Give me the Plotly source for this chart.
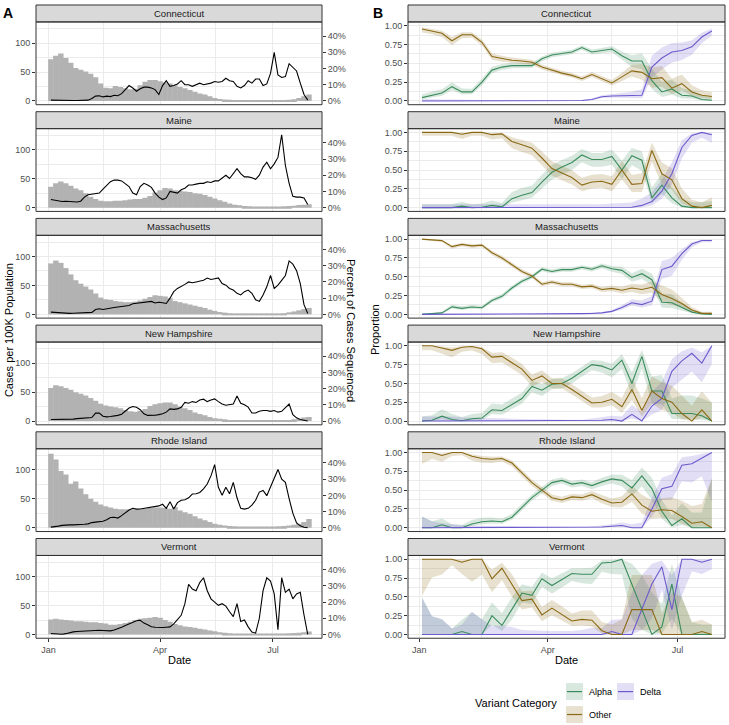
import numpy as np
import pandas as pd
import plotly.graph_objects as go

# ---------------- data ----------------
states = ["Connecticut", "Maine", "Massachusetts", "New Hampshire", "Rhode Island", "Vermont"]

# cases per 100K (4-day bins starting 2021-01-03)
CT_cases = [72,78,82,74,66,57,54,51,47,41,30,23,22,26,24,22,20,21,27,33,36,36,34,32,30,27,24,22,19,16,13,11,8,5,3.5,2.5,2,1.5,1.2,1,1,1,1,1,1,1,1.2,1.5,2,3,5,8,11]
ME_cases = [36,42,45,42,38,33,30,25,19,15,12,11,11,12,12,13,14,15,15,17,20,26,30,34,33,30,29,28,27,25,24,22,19,16,13,10,7,5,4,3,2.5,2,2,2,2,2,2,2.5,3,3.5,4.5,5,6]
MA_cases = [88,93,89,80,69,59,53,48,43,36,29,26,25,23,22,21,21,22,24,27,30,33,32,31,28,23,21,19,17,15,13,11,8,6,4,3,2,1.5,1.2,1,1,1,1,1,1,1,1.5,2,3.5,5,7,9,11]
NH_cases = [57,62,60,57,54,50,47,44,40,35,30,27,25,24,22,19,17,16,18,21,26,29,31,32,32,29,25,22,19,15,12,10,7,5,4,3,2,1.5,1,1,1,1,1,1,1,1,1,1.5,2,3,4,6,7]
RI_cases = [128,118,98,92,76,80,68,58,50,45,40,37,35,33,32,32,32,32,32,33,34,35,35,34,33,36,30,27,24,20,16,13,10,7,5,4,3,2.5,2,2,2,2,2,2,2,2,2.5,3,4,5,7,10,15]
VT_cases = [26,27,26,25,24,23,23,22,21,21,20,19,17,17,18,20,22,25,27,28,29,30,29,25,22,18,16,14,13,11.5,10,8.6,7,5.5,4,3,2,1.5,1.2,1,1,1,1,1,1,1,1.2,1.5,2,2.5,3,4,5]

# percent of cases sequenced (every 3 days starting 2021-01-03)
CT_pct = [0.5,0.4,0.3,0.3,0.2,0.2,0.3,0.3,0.3,0.4,0.5,1.5,3,3.2,2.5,3,2.7,3.5,3.2,4.5,7,9.5,8,6,7.5,8.5,8.5,8,7,4,9.5,12.5,9,9.5,10.5,12.5,10,10,9,10,11,10,10.5,11,12,11.5,12,14,12.5,12,9,8,9.5,12.5,11,13.5,13.5,9.5,10.5,17,30,16,14.5,15,23,21,18.5,11,4,0.5]
ME_pct = [5,4.5,4,3.8,4,3.9,3.5,3.5,4,6.5,8,8.3,8.5,9,11.5,14,16,17,17,16.5,15,13,9,8,13,15,14,12.5,9,6.5,5,6,10,9.5,9,11,12,14,14,14.5,15,15,16,15.5,16.5,16.5,18,20,18,21,24,21,19,19,18.5,17.5,20,25,28,24,27,31,45,26,15,7,6.5,6.5,6,2]
MA_pct = [1.4,1.2,1,0.8,0.6,0.6,0.7,0.8,0.9,1,1,1.2,3,3.5,3,3.5,4,4.2,4.5,4.7,5,5.5,6.5,6.8,7,7.3,7.5,8,7,7.5,7.2,6.7,10,14,16,17,18.5,20,19.5,20,20.4,21,22.4,21.5,22,22.5,19,18,16,15,13,12,14,15,13,9,8,12,17,24,16,18,21,24,33,31,27,19,6,0.5]
NH_pct = [1,1,0.9,1,1,1,1.2,1.5,1.7,1.9,2,2.2,4.9,5,3,2.6,2.8,3,3.5,4.2,6,8,9,8.5,7,4.5,3.5,3.5,3.6,4,4.5,5.5,7.5,7.2,7.5,8.5,11.5,11,12,11.5,13,13.5,12,13,13.7,12,10.5,9.8,10,10.5,15.5,11,10,8.6,5,5,6,6.5,6.5,6,6.5,5.5,6,8,10.5,4,2,1,0.5,0]
RI_pct = [0.4,0.6,1,1.5,1.8,1.8,1.8,1.8,2,2.2,2.4,3.2,3.5,3.8,4,5,6.3,6.5,6,7.5,9.2,11,12,11.5,11.6,12,12,12.5,13,13.5,14.5,12,16,11.6,15.5,17,17.3,18.5,20.8,21,21.8,24,27,32,39,25,20,25,21,28,18.5,12,11.5,12,14,17,22,23,19.8,25,30,36,30,28,18,9,3,1.2,0.3,0]
VT_pct = [0.6,0.4,0.2,0.1,0.5,1.2,1.6,1.8,2,2,2.2,2.2,2.4,2.6,2.5,2.3,2.2,2.8,3.5,4.5,5.5,6.5,7.5,8.5,8.8,7,6,4.8,4.5,4.3,4.3,4.5,4.7,6.5,9.5,11.8,19,31,28,27,32,35,27,22,20,18,19,17.5,14,11,19,8,9,4.7,1.5,0.8,10,27,35,33,25,3,35,26,28,22,25,26,12,0]

# weekly variant proportions (weeks starting 2021-01-03)
CT_alpha = [0.044,0.075,0.105,0.19,0.12,0.12,0.25,0.41,0.45,0.47,0.47,0.47,0.56,0.61,0.63,0.65,0.71,0.65,0.67,0.69,0.60,0.53,0.53,0.27,0.12,0.16,0.075,0.066,0.02,0.01]
CT_delta = [0,0,0,0,0,0,0,0,0,0,0,0,0,0,0,0,0.005,0.02,0.055,0.065,0.07,0.07,0.075,0.45,0.57,0.65,0.67,0.72,0.85,0.93]
CT_other = [0.956,0.93,0.90,0.80,0.88,0.88,0.78,0.59,0.56,0.54,0.53,0.515,0.45,0.405,0.37,0.34,0.295,0.35,0.295,0.24,0.32,0.40,0.38,0.295,0.31,0.17,0.23,0.12,0.075,0.06]
CT_n = [150,200,200,200,250,300,400,500,600,700,800,900,1000,1000,1000,1000,900,800,700,500,300,150,80,40,40,50,60,80,100,120]

ME_alpha = [0,0,0,0,0.02,0,0.005,0.03,0.01,0.12,0.165,0.2,0.34,0.47,0.54,0.6,0.70,0.64,0.64,0.68,0.50,0.69,0.63,0.13,0.30,0.13,0.02,0,0,0]
ME_delta = [0,0,0,0,0,0,0,0,0,0,0,0,0,0,0,0,0.003,0.005,0.005,0.005,0.003,0.005,0.03,0.08,0.22,0.45,0.80,0.96,1.0,0.97]
ME_other = [1,1,1,1,0.975,1,1,0.97,0.98,0.88,0.835,0.79,0.66,0.52,0.46,0.40,0.30,0.34,0.35,0.31,0.50,0.31,0.32,0.76,0.45,0.37,0.12,0.02,0,0.03]
ME_n = [80,80,80,80,80,80,80,80,80,80,80,90,100,100,100,100,100,100,100,80,60,60,50,40,40,40,40,50,50,40]

MA_alpha = [0,0.005,0.02,0.10,0.08,0.097,0.088,0.185,0.24,0.35,0.44,0.50,0.60,0.57,0.595,0.595,0.625,0.60,0.645,0.605,0.585,0.49,0.54,0.46,0.16,0.155,0.088,0.03,0.005,0]
MA_delta = [0,0,0,0,0,0,0,0,0,0,0,0,0,0,0,0.005,0.01,0.012,0.02,0.04,0.09,0.155,0.13,0.175,0.595,0.64,0.806,0.934,0.982,0.982]
MA_other = [1.0,0.99,0.98,0.90,0.93,0.91,0.92,0.82,0.75,0.66,0.57,0.51,0.40,0.43,0.40,0.40,0.365,0.375,0.33,0.345,0.32,0.35,0.33,0.36,0.265,0.21,0.145,0.057,0.013,0.013]
MA_n = [300,400,400,500,500,500,600,700,800,900,1000,1200,1200,1200,1200,1200,1200,1000,800,600,400,300,200,150,60,60,120,200,300,300]

NH_alpha = [0.0,0.01,0.065,0.02,0.005,0.03,0.04,0.15,0.14,0.22,0.30,0.46,0.41,0.49,0.50,0.57,0.66,0.75,0.73,0.68,0.81,0.50,0.86,0.40,0.40,0.10,0.10,0.10,0.07,0.0]
NH_delta = [0,0,0,0,0,0,0,0,0,0,0,0,0,0,0,0,0,0.005,0.01,0.02,0.0,0.09,0.0,0.2,0.3,0.66,0.80,0.90,0.77,1.0]
NH_other = [1.0,1.0,0.97,0.94,0.98,0.99,0.96,0.85,0.86,0.78,0.69,0.54,0.60,0.50,0.50,0.42,0.33,0.24,0.25,0.29,0.19,0.42,0.14,0.40,0.30,0.25,0.10,0.0,0.15,0.0]
NH_n = [60,60,60,60,80,80,80,100,100,120,150,150,150,200,200,200,200,150,120,100,60,40,30,25,20,20,15,15,15,12]

RI_alpha = [0,0,0.04,0,0,0.05,0.08,0.09,0.08,0.14,0.27,0.40,0.50,0.60,0.63,0.58,0.60,0.56,0.61,0.65,0.63,0.53,0.69,0.52,0.22,0.03,0.12,0.0,0.0,0.0]
RI_delta = [0,0,0,0,0,0,0,0,0,0,0,0,0,0,0,0,0,0.005,0.01,0.02,0.03,0.0,0.0,0.25,0.52,0.55,0.83,0.85,0.92,1.0]
RI_other = [1.0,1.0,0.96,1.0,1.0,0.95,0.92,0.91,0.92,0.86,0.73,0.60,0.50,0.40,0.37,0.41,0.40,0.44,0.38,0.33,0.34,0.45,0.30,0.22,0.24,0.23,0.15,0.06,0.08,0.0]
RI_n = [22,40,60,80,100,120,150,200,250,300,400,500,500,500,500,500,500,400,300,250,150,80,50,40,40,30,20,15,15,2]

VT_alpha = [0,0,0,0,0.04,0,0,0.25,0.12,0.33,0.55,0.52,0.74,0.65,0.73,0.81,0.80,0.80,0.95,0.96,1.0,0.67,0.33,0,0.1,0.67,0,0,0,0]
VT_delta = [0,0,0,0,0,0,0,0,0,0,0,0,0,0,0,0,0,0.01,0,0.04,0,0,0.33,0.67,0.9,0.33,1.0,1.0,0.96,1.0]
VT_other = [1,1,1,1,0.96,1,1,0.74,0.88,0.67,0.45,0.47,0.26,0.35,0.27,0.18,0.20,0.19,0.05,0,0,0.33,0.33,0.33,0,0,0,0,0.04,0]
VT_n = [4,12,15,45,25,9,15,30,30,35,60,70,80,80,80,80,60,50,40,25,15,3,3,3,10,3,4,20,25,25]

cases = [CT_cases, ME_cases, MA_cases, NH_cases, RI_cases, VT_cases]
pcts = [CT_pct, ME_pct, MA_pct, NH_pct, RI_pct, VT_pct]
alphas = [CT_alpha, ME_alpha, MA_alpha, NH_alpha, RI_alpha, VT_alpha]
deltas = [CT_delta, ME_delta, MA_delta, NH_delta, RI_delta, VT_delta]
others = [CT_other, ME_other, MA_other, NH_other, RI_other, VT_other]
ns = [CT_n, ME_n, MA_n, NH_n, RI_n, VT_n]

variant_names = ["Alpha", "Delta", "Other"]
variant_colors = {"Alpha": "#3A8C5C", "Delta": "#6A5ACD", "Other": "#8B6914"}

x_tickvals = ["2021-01-01", "2021-04-01", "2021-07-01"]
x_ticktext = ["Jan", "Apr", "Jul"]
x_minor = ["2021-02-14", "2021-05-16"]

# ---------------- helpers ----------------
W, H = 729, 725
PCT_SCALE = 2.8  # cases-axis units per percentage point

def rgba(hexc, a):
    h = hexc.lstrip("#")
    return f"rgba({int(h[0:2],16)},{int(h[2:4],16)},{int(h[4:6],16)},{a})"

def wilson(p, n, z=1.96):
    p = np.asarray(p, float); n = np.asarray(n, float)
    denom = 1 + z**2 / n
    center = (p + z**2 / (2 * n)) / denom
    hw = z * np.sqrt(p * (1 - p) / n + z**2 / (4 * n**2)) / denom
    return np.clip(center - hw, 0, 1), np.clip(center + hw, 0, 1)

def axkey(letter, n):
    return f"{letter}axis" if n == 1 else f"{letter}axis{n}"

def axname(letter, n):
    return letter if n == 1 else f"{letter}{n}"

case_dates = pd.date_range("2021-01-03", periods=len(CT_cases), freq="4D")
pct_dates = pd.date_range("2021-01-03", periods=len(CT_pct), freq="3D")
week_dates = pd.date_range("2021-01-03", periods=len(CT_alpha), freq="7D")

L0, L1 = 36, 322
R0, R1 = 408, 725
TOPS = [21, 128, 235, 342, 449, 556]
PH = 83
SH = 17

FONT = "Liberation Sans, Arial, sans-serif"
TICKFONT = dict(family=FONT, size=9, color="#4D4D4D")
GRID = "#EBEBEB"

fig = go.Figure()
layout = dict(width=W, height=H, margin=dict(l=0, r=0, t=0, b=0),
              paper_bgcolor="white", plot_bgcolor="white", showlegend=False,
              font=dict(family=FONT, color="black"))
shapes = []
annotations = []

for i, st in enumerate(states):
    xl, xr = 2 * i + 1, 2 * i + 2
    yl, y2, yr = 3 * i + 1, 3 * i + 2, 3 * i + 3
    top = TOPS[i]
    ydom = [1 - (top + PH) / H, 1 - top / H]
    bottom = (i == len(states) - 1)

    common_x = dict(type="date", showgrid=True, gridcolor=GRID, gridwidth=1,
                    tickmode="array", tickvals=x_tickvals, ticktext=x_ticktext,
                    showticklabels=bottom, ticks="outside" if bottom else "",
                    ticklen=3, tickcolor="#333333", tickwidth=1, tickfont=TICKFONT,
                    minor=dict(tickmode="array", tickvals=x_minor, showgrid=True,
                               gridcolor=GRID, gridwidth=0.6),
                    zeroline=False, showline=False)
    layout[axkey("x", xl)] = dict(common_x, domain=[L0 / W, L1 / W], anchor=axname("y", yl),
                                  range=["2020-12-22", "2021-08-09 12:00"])
    layout[axkey("x", xr)] = dict(common_x, domain=[R0 / W, R1 / W], anchor=axname("y", yr),
                                  range=["2020-12-24 05:00", "2021-08-03 05:00"])

    layout[axkey("y", yl)] = dict(domain=ydom, anchor=axname("x", xl), range=[-6.5, 136.5],
                                  tickmode="array", tickvals=[0, 50, 100],
                                  showgrid=True, gridcolor=GRID, gridwidth=1,
                                  minor=dict(tickmode="array", tickvals=[25, 75, 125], showgrid=True,
                                             gridcolor=GRID, gridwidth=0.6),
                                  ticks="outside", ticklen=3, tickcolor="#333333", tickwidth=1,
                                  tickfont=TICKFONT, zeroline=False, showline=False)
    layout[axkey("y", y2)] = dict(overlaying=axname("y", yl), side="right", anchor=axname("x", xl),
                                  range=[-6.5 / PCT_SCALE, 136.5 / PCT_SCALE],
                                  tickmode="array", tickvals=[0, 10, 20, 30, 40],
                                  ticktext=["0%", "10%", "20%", "30%", "40%"],
                                  showgrid=False, ticks="outside", ticklen=3, tickcolor="#333333",
                                  tickwidth=1, tickfont=TICKFONT, zeroline=False, showline=False)
    layout[axkey("y", yr)] = dict(domain=ydom, anchor=axname("x", xr), range=[-0.05, 1.05],
                                  tickmode="array", tickvals=[0, 0.25, 0.5, 0.75, 1.0],
                                  ticktext=["0.00", "0.25", "0.50", "0.75", "1.00"],
                                  showgrid=True, gridcolor=GRID, gridwidth=1,
                                  minor=dict(tickmode="array", tickvals=[0.125, 0.375, 0.625, 0.875],
                                             showgrid=True, gridcolor=GRID, gridwidth=0.6),
                                  ticks="outside", ticklen=3, tickcolor="#333333", tickwidth=1,
                                  tickfont=TICKFONT, zeroline=False, showline=False)

    # left: bars + percent line
    fig.add_trace(go.Bar(x=case_dates, y=cases[i], width=4.4 * 86400000,
                         marker=dict(color="#B2B2B2", line=dict(width=0)),
                         xaxis=axname("x", xl), yaxis=axname("y", yl), hoverinfo="skip"))
    fig.add_trace(go.Scatter(x=pct_dates, y=pcts[i], mode="lines",
                             line=dict(color="black", width=1.1),
                             xaxis=axname("x", xl), yaxis=axname("y", y2), hoverinfo="skip"))

    # right: ribbons then lines
    props = {"Alpha": alphas[i], "Delta": deltas[i], "Other": others[i]}
    xs = list(week_dates) + list(week_dates[::-1])
    for v in variant_names:
        lo, hi = wilson(props[v], ns[i])
        fig.add_trace(go.Scatter(x=xs, y=list(hi) + list(lo[::-1]), mode="lines",
                                 fill="toself", fillcolor=rgba(variant_colors[v], 0.2),
                                 line=dict(width=0, color="rgba(0,0,0,0)"),
                                 xaxis=axname("x", xr), yaxis=axname("y", yr), hoverinfo="skip"))
    for v in variant_names:
        fig.add_trace(go.Scatter(x=week_dates, y=props[v], mode="lines",
                                 line=dict(color=variant_colors[v], width=1.1),
                                 xaxis=axname("x", xr), yaxis=axname("y", yr), hoverinfo="skip"))

    # strips + borders
    for (a, b) in [(L0, L1), (R0, R1)]:
        shapes.append(dict(type="rect", xref="paper", yref="paper",
                           x0=a / W, x1=b / W, y0=1 - top / H, y1=1 - (top - SH) / H,
                           fillcolor="#D9D9D9", line=dict(color="#333333", width=1), layer="above"))
        shapes.append(dict(type="rect", xref="paper", yref="paper",
                           x0=a / W, x1=b / W, y0=1 - (top + PH) / H, y1=1 - top / H,
                           fillcolor="rgba(0,0,0,0)", line=dict(color="#333333", width=1), layer="above"))
        annotations.append(dict(text=st, xref="paper", yref="paper", x=(a + b) / 2 / W,
                                y=1 - (top - SH / 2) / H, showarrow=False, xanchor="center",
                                yanchor="middle", font=dict(family=FONT, size=9.5, color="#1A1A1A")))

# axis titles
mid_y = 1 - ((TOPS[0] + TOPS[-1] + PH) / 2) / H
title_font = dict(family=FONT, size=11, color="black")
annotations += [
    dict(text="Cases per 100K Population", x=9 / W, y=mid_y, textangle=-90, font=title_font),
    dict(text="Percent of Cases Sequenced", x=351 / W, y=mid_y, textangle=90, font=title_font),
    dict(text="Proportion", x=375 / W, y=mid_y, textangle=-90, font=title_font),
    dict(text="Date", x=(L0 + L1) / 2 / W, y=1 - 661 / H, font=title_font),
    dict(text="Date", x=(R0 + R1) / 2 / W, y=1 - 661 / H, font=title_font),
]
for a in annotations[-5:]:
    a.update(xref="paper", yref="paper", showarrow=False, xanchor="center", yanchor="middle")

annotations += [
    dict(text="<b>A</b>", x=1 / W, y=1 - 2 / H, xanchor="left", yanchor="top",
         font=dict(family=FONT, size=14, color="black"), xref="paper", yref="paper", showarrow=False),
    dict(text="<b>B</b>", x=371 / W, y=1 - 2 / H, xanchor="left", yanchor="top",
         font=dict(family=FONT, size=14, color="black"), xref="paper", yref="paper", showarrow=False),
]

# legend (drawn manually)
legend_items = [("Alpha", 566, 684), ("Delta", 617, 684), ("Other", 566, 707)]
for name, kx, ky in legend_items:
    c = variant_colors[name]
    shapes.append(dict(type="rect", xref="paper", yref="paper", x0=kx / W, x1=(kx + 17) / W,
                       y0=1 - (ky + 17) / H, y1=1 - ky / H, fillcolor=rgba(c, 0.2),
                       line=dict(width=0)))
    shapes.append(dict(type="line", xref="paper", yref="paper", x0=(kx + 1) / W, x1=(kx + 16) / W,
                       y0=1 - (ky + 8.5) / H, y1=1 - (ky + 8.5) / H, line=dict(color=c, width=1.2)))
    annotations.append(dict(text=name, x=(kx + 21) / W, y=1 - (ky + 8.5) / H, xref="paper", yref="paper",
                            showarrow=False, xanchor="left", yanchor="middle",
                            font=dict(family=FONT, size=9, color="black")))
annotations.append(dict(text="Variant Category", x=559 / W, y=1 - 704 / H, xref="paper", yref="paper",
                        showarrow=False, xanchor="right", yanchor="middle",
                        font=dict(family=FONT, size=11, color="black")))

layout["shapes"] = shapes
layout["annotations"] = annotations
fig.update_layout(**layout)

fig.write_html("out.html", config={"displayModeBar": False},
               post_script="document.body.style.margin='0px';")
